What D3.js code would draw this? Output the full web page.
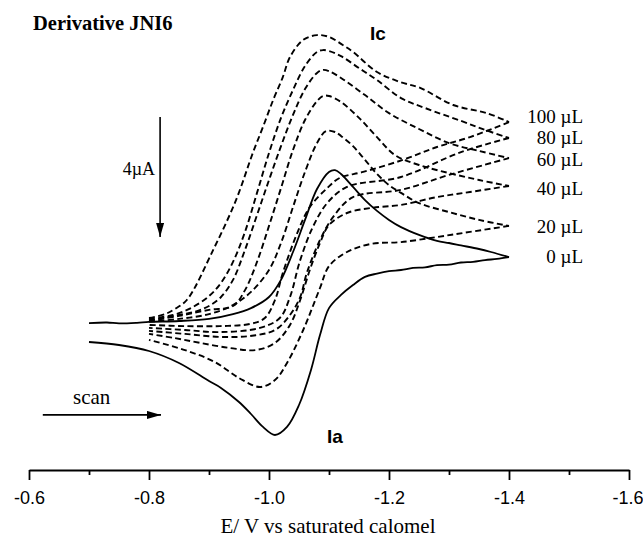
<!DOCTYPE html>
<html><head><meta charset="utf-8">
<script src="https://cdn.jsdelivr.net/npm/d3@7"></script>
<style>body{margin:0;background:#fff}svg{display:block}</style>
</head><body>
<svg id="c" width="643" height="540"></svg>
<script>
// ---- data ----
const xTickValues = [-0.6,-0.7,-0.8,-0.9,-1.0,-1.1,-1.2,-1.3,-1.4,-1.5,-1.6];
const xTickLabels = ["-0.6","","-0.8","","-1.0","","-1.2","","-1.4","","-1.6"];
const seriesNames = ["0 µL","20 µL","40 µL","60 µL","80 µL","100 µL"];

// 0 µL (solid): potential E (V) and current (µA), forward then reverse
const e0 = [-0.70,-0.73,-0.75,-0.78,-0.80,-0.85,-0.90,-0.94,-0.97,-1.00,-1.02,-1.04,-1.06,-1.08,-1.10,-1.11,-1.12,-1.14,-1.16,-1.18,-1.20,-1.22,-1.25,-1.28,-1.30,-1.32,-1.35,-1.37,-1.40,
            -1.38,-1.36,-1.34,-1.32,-1.30,-1.28,-1.26,-1.24,-1.22,-1.20,-1.18,-1.16,-1.14,-1.12,-1.10,-1.085,-1.07,-1.05,-1.03,-1.01,-0.99,-0.97,-0.95,-0.92,-0.90,-0.85,-0.80,-0.75,-0.70];
const i0 = [0.23,0.25,0.22,0.24,0.27,0.30,0.37,0.53,0.73,1.10,1.67,2.60,3.67,4.70,5.27,5.33,5.20,4.77,4.33,3.97,3.67,3.43,3.17,2.97,2.90,2.82,2.70,2.60,2.43,
            2.37,2.33,2.27,2.25,2.18,2.16,2.09,2.07,2.00,1.96,1.88,1.77,1.50,1.17,0.73,-0.17,-1.33,-2.50,-3.23,-3.50,-3.23,-2.80,-2.40,-1.93,-1.70,-1.10,-0.70,-0.50,-0.40];

const e20 = [-0.80,-0.85,-0.90,-0.94,-0.97,-1.00,-1.02,-1.04,-1.06,-1.08,-1.095,-1.11,-1.12,-1.14,-1.16,-1.18,-1.20,-1.22,-1.25,-1.30,-1.35,-1.40,
             -1.335,-1.28,-1.22,-1.17,-1.13,-1.10,-1.085,-1.057,-1.03,-1.01,-0.985,-0.95,-0.91,-0.86,-0.80];
const i20 = [0.27,0.37,0.53,0.83,1.27,2.00,2.90,4.10,5.27,6.23,6.63,6.60,6.47,6.13,5.67,5.20,4.83,4.57,4.23,3.93,3.67,3.47,
             3.27,3.10,2.93,2.87,2.60,2.13,1.40,0.00,-1.10,-1.67,-1.90,-1.60,-1.07,-0.67,-0.33];

const e40 = [-0.80,-0.85,-0.90,-0.94,-0.96,-0.98,-1.00,-1.02,-1.04,-1.06,-1.08,-1.09,-1.10,-1.12,-1.15,-1.18,-1.21,-1.25,-1.30,-1.35,-1.40,
             -1.335,-1.28,-1.22,-1.17,-1.13,-1.10,-1.085,-1.068,-1.052,-1.035,-1.01,-0.977,-0.935,-0.885,-0.843,-0.80];
const i40 = [0.30,0.47,0.67,0.80,1.33,2.27,3.47,4.73,6.00,7.00,7.63,7.80,7.80,7.60,7.07,6.43,5.83,5.50,5.23,5.00,4.80,
             4.60,4.43,4.17,4.07,3.90,3.50,2.90,2.00,1.00,0.17,-0.43,-0.67,-0.60,-0.43,-0.27,-0.13];

const e60 = [-0.80,-0.85,-0.88,-0.90,-0.92,-0.94,-0.96,-0.98,-1.00,-1.02,-1.04,-1.06,-1.08,-1.09,-1.10,-1.12,-1.16,-1.20,-1.25,-1.30,-1.35,-1.40,
             -1.30,-1.22,-1.14,-1.107,-1.085,-1.063,-1.052,-1.035,-1.01,-0.968,-0.918,-0.86,-0.80];
const i60 = [0.33,0.50,0.63,0.80,1.10,1.67,2.67,3.83,5.00,6.13,7.17,8.03,8.57,8.67,8.63,8.40,7.83,7.23,6.70,6.23,5.97,5.73,
             5.17,4.67,4.43,3.77,3.00,1.90,1.10,0.50,0.00,-0.20,-0.23,-0.13,-0.03];

const e80 = [-0.80,-0.84,-0.87,-0.90,-0.92,-0.94,-0.96,-0.98,-1.00,-1.02,-1.04,-1.06,-1.08,-1.09,-1.10,-1.12,-1.15,-1.18,-1.22,-1.26,-1.32,-1.36,-1.40,
             -1.32,-1.22,-1.13,-1.097,-1.073,-1.052,-1.035,-1.018,-0.985,-0.918,-0.86,-0.80];
const i80 = [0.37,0.50,0.73,1.13,1.57,2.27,3.27,4.57,5.90,7.07,8.00,8.80,9.27,9.33,9.30,9.13,8.73,8.33,7.73,7.40,6.97,6.67,6.40,
             5.93,5.10,4.77,4.23,3.43,2.33,1.10,0.40,0.07,-0.07,0.00,0.07];

const e100 = [-0.80,-0.827,-0.843,-0.863,-0.907,-0.945,-0.973,-0.99,-1.007,-1.023,-1.035,-1.057,-1.08,-1.10,-1.123,-1.14,-1.18,-1.218,-1.252,-1.307,-1.363,-1.40,
              -1.335,-1.28,-1.223,-1.157,-1.118,-1.097,-1.068,-1.047,-1.023,-1.01,-0.993,-0.968,-0.918,-0.86,-0.80];
const i100 = [0.40,0.53,0.70,1.00,2.67,4.33,5.90,6.77,7.67,8.43,9.10,9.67,9.83,9.77,9.50,9.27,8.60,8.27,8.07,7.50,7.23,6.93,
              6.43,6.10,5.67,5.27,5.07,4.73,4.10,3.23,1.90,1.00,0.40,0.20,0.13,0.13,0.17];

const seriesE = [e0,e20,e40,e60,e80,e100];
const seriesI = [i0,i20,i40,i60,i80,i100];

// ---- layout ----
const svg = d3.select("#c");
const x = d3.scaleLinear().domain([-0.6,-1.6]).range([29,629]);
const y = d3.scaleLinear().domain([0,10]).range([330,30]);
const axisY = 470;
const serif = "'Liberation Serif','Times New Roman',serif";
const sans = "'Liberation Sans',Arial,sans-serif";

const line = d3.line().x(d=>x(d[0])).y(d=>y(d[1])).curve(d3.curveCatmullRom.alpha(0.5));

seriesE.forEach((es,k)=>{
  const pts = es.map((e,j)=>[e,seriesI[k][j]]);
  const turn = d3.minIndex(es);
  [pts.slice(0,turn+1), pts.slice(turn)].forEach(p=>{
    svg.append("path").attr("d",line(p)).attr("fill","none")
      .attr("stroke","#000")
      .attr("stroke-width", k===0?1.8:1.9)
      .attr("stroke-dasharray", k===0?null:"6,3.4")
      .attr("stroke-linejoin","round");
  });
});

// series labels
const labelBase = [263,233,195,166,144,123];
seriesNames.forEach((n,k)=>{
  svg.append("text").attr("x",583).attr("y",labelBase[k]).attr("text-anchor","end")
    .attr("font-family",serif).attr("font-size",19).text(n);
});

// axis
const gMaj = svg.append("g").attr("transform",`translate(0,${axisY})`)
  .call(d3.axisBottom(x).tickValues(xTickValues.filter((v,j)=>xTickLabels[j]!==""))
        .tickFormat(v=>xTickLabels[xTickValues.indexOf(v)]).tickSize(10).tickSizeOuter(0).tickPadding(11));
const gMin = svg.append("g").attr("transform",`translate(0,${axisY})`)
  .call(d3.axisBottom(x).tickValues(xTickValues.filter((v,j)=>xTickLabels[j]===""))
        .tickFormat("").tickSize(5).tickSizeOuter(0));
gMin.select(".domain").remove();
[gMaj,gMin].forEach(g=>{
  g.selectAll("path,line").attr("stroke","#000").attr("stroke-width",1.8);
  g.selectAll("text").attr("font-family",sans).attr("font-size",18).attr("fill","#000");
});
gMaj.selectAll(".tick text").filter((d,j,n)=>j===n.length-1).attr("text-anchor","end").attr("dx","14");

svg.append("text").attr("x",328).attr("y",533).attr("text-anchor","middle")
  .attr("font-family",serif).attr("font-size",21).text("E/ V vs saturated calomel");

// title and peak labels
svg.append("text").attr("x",33).attr("y",30).attr("font-family",serif).attr("font-weight","bold")
  .attr("font-size",20.5).text("Derivative JNI6");
svg.append("text").attr("x",370).attr("y",40).attr("font-family",sans).attr("font-weight","bold")
  .attr("font-size",19).text("Ic");
svg.append("text").attr("x",327).attr("y",443).attr("font-family",sans).attr("font-weight","bold")
  .attr("font-size",19).text("Ia");

// arrows
const defs = svg.append("defs");
defs.append("marker").attr("id","ah").attr("viewBox","0 0 14 8").attr("refX",14).attr("refY",4)
  .attr("markerWidth",14).attr("markerHeight",8).attr("markerUnits","userSpaceOnUse").attr("orient","auto")
  .append("path").attr("d","M0,0 L14,4 L0,8 Z").attr("fill","#000");

const scaleBarE = -0.8185, scaleBarTop = 7.1, scaleBarLen = 4;
svg.append("line").attr("x1",x(scaleBarE)).attr("x2",x(scaleBarE))
  .attr("y1",y(scaleBarTop)).attr("y2",y(scaleBarTop-scaleBarLen))
  .attr("stroke","#000").attr("stroke-width",1.6).attr("marker-end","url(#ah)");
svg.append("text").attr("x",x(scaleBarE)-5).attr("y",175).attr("text-anchor","end")
  .attr("font-family",serif).attr("font-size",18).text("4µA");

const scanE0 = -0.623, scanE1 = -0.82, scanI = -2.83;
svg.append("line").attr("x1",x(scanE0)).attr("x2",x(scanE1)).attr("y1",y(scanI)).attr("y2",y(scanI))
  .attr("stroke","#000").attr("stroke-width",1.6).attr("marker-end","url(#ah)");
svg.append("text").attr("x",73).attr("y",404).attr("font-family",serif).attr("font-size",21).text("scan");
</script>
</body></html>
